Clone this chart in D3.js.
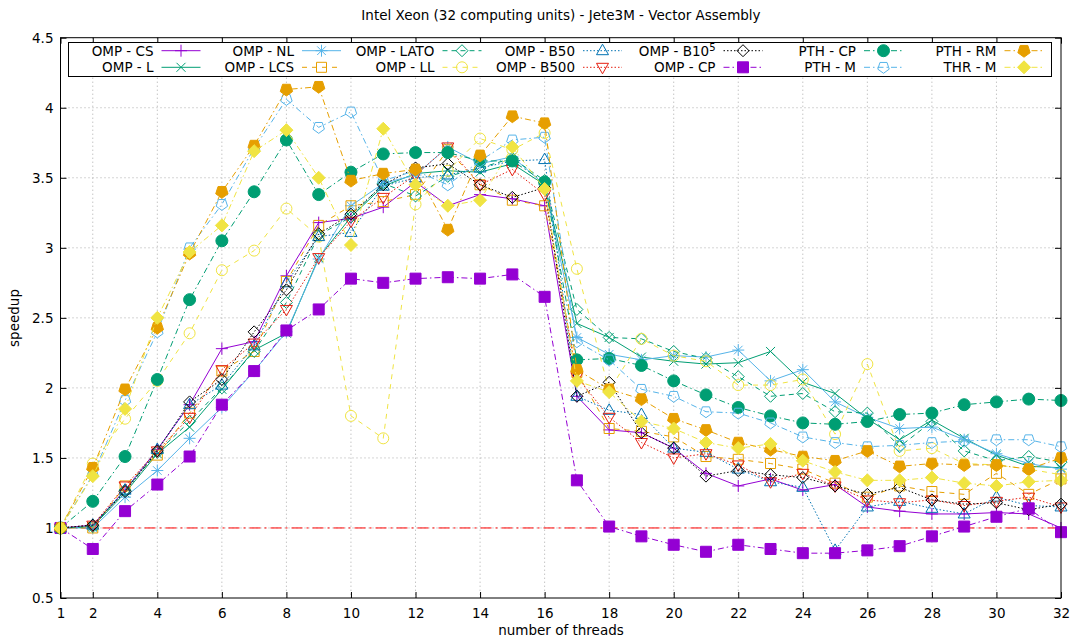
<!DOCTYPE html>
<html><head><meta charset="utf-8">
<script src="https://cdn.jsdelivr.net/npm/d3@7"></script>
<style>body{margin:0;background:#fff}svg text{font-family:"DejaVu Sans",sans-serif;fill:#000}</style>
</head><body><svg id="c" width="1076" height="641"></svg>
<script>
const threads=[1,2,3,4,5,6,7,8,9,10,11,12,13,14,15,16,17,18,19,20,21,22,23,24,25,26,27,28,29,30,31,32];
const xTicks=[1,2,4,6,8,10,12,14,16,18,20,22,24,26,28,30,32];
const yTicks=[0.5,1,1.5,2,2.5,3,3.5,4,4.5];
const yTickLabels=["0.5","1","1.5","2","2.5","3","3.5","4","4.5"];
const title="Intel Xeon (32 computing units) - Jete3M - Vector Assembly";
const xLabel="number of threads", yLabel="speedup";
const seriesNames=["OMP - CS","OMP - L","OMP - NL","OMP - LCS","OMP - LATO","OMP - LL","OMP - B50","OMP - B500","OMP - B10^5","OMP - CP","PTH - CP","PTH - M","PTH - RM","THR - M"];
const ompCS=[1.00,1.02,1.27,1.56,1.88,2.28,2.33,2.80,3.18,3.21,3.29,3.47,3.30,3.38,3.35,3.30,1.94,1.70,1.68,1.57,1.39,1.30,1.35,1.27,1.31,1.15,1.12,1.10,1.10,1.11,1.10,1.00];
const ompL=[1.00,1.01,1.25,1.53,1.72,1.99,2.27,2.39,2.93,3.22,3.44,3.53,3.55,3.54,3.60,3.45,2.46,2.36,2.22,2.19,2.17,2.18,2.26,2.04,1.96,1.78,1.63,1.77,1.64,1.52,1.44,1.43];
const ompNL=[1.00,1.00,1.22,1.41,1.64,1.86,2.12,2.40,2.92,3.30,3.46,3.52,3.72,3.60,3.65,3.45,2.36,2.24,2.20,2.23,2.22,2.27,2.05,2.13,1.90,1.79,1.71,1.72,1.63,1.53,1.46,1.42];
const ompLCS=[1.00,1.00,1.30,1.52,1.82,2.12,2.26,2.76,3.16,3.30,3.33,3.38,3.70,3.45,3.34,3.30,2.11,1.71,1.69,1.65,1.51,1.49,1.46,1.42,1.32,1.22,1.30,1.26,1.24,1.39,1.24,1.35];
const ompLATO=[1.00,1.01,1.27,1.54,1.76,2.00,2.26,2.61,3.09,3.22,3.46,3.37,3.51,3.57,3.64,3.48,2.56,2.36,2.35,2.26,2.21,2.08,1.94,1.96,1.83,1.82,1.58,1.76,1.55,1.48,1.51,1.47];
const ompLL=[1.00,1.46,1.78,2.05,2.39,2.84,2.98,3.28,3.08,1.80,1.64,3.31,3.55,3.78,3.70,3.82,2.85,1.98,2.35,2.23,2.19,2.02,2.02,2.06,1.67,2.17,1.55,1.57,1.46,1.45,1.42,1.38];
const ompB50=[1.00,1.02,1.27,1.56,1.88,2.02,2.30,2.75,3.08,3.11,3.44,3.50,3.52,3.57,3.62,3.63,1.94,1.84,1.81,1.57,1.54,1.42,1.33,1.29,0.84,1.15,1.19,1.14,1.10,1.22,1.16,1.15];
const ompB500=[1.00,1.02,1.30,1.55,1.79,2.13,2.32,2.56,2.93,3.19,3.36,3.52,3.72,3.45,3.56,3.38,2.08,1.79,1.61,1.50,1.53,1.45,1.33,1.39,1.30,1.20,1.18,1.20,1.16,1.19,1.22,1.15];
const ompB105=[1.00,1.02,1.26,1.55,1.90,2.06,2.40,2.70,3.10,3.24,3.45,3.57,3.60,3.45,3.36,3.43,1.94,2.04,1.68,1.57,1.37,1.41,1.38,1.36,1.30,1.24,1.29,1.20,1.17,1.18,1.13,1.17];
const ompCP=[1.00,0.85,1.12,1.31,1.51,1.88,2.12,2.41,2.56,2.78,2.75,2.78,2.79,2.78,2.81,2.65,1.34,1.01,0.94,0.88,0.83,0.88,0.85,0.82,0.82,0.84,0.87,0.94,1.01,1.08,1.14,0.97];
const pthCP=[1.00,1.19,1.51,2.06,2.63,3.05,3.40,3.77,3.38,3.54,3.67,3.68,3.68,3.62,3.62,3.47,2.20,2.21,2.16,2.05,1.95,1.86,1.80,1.75,1.74,1.76,1.81,1.82,1.88,1.90,1.92,1.91];
const pthM=[1.00,1.38,1.91,2.40,3.00,3.31,3.71,4.06,3.86,3.97,3.48,3.55,3.45,3.62,3.77,3.79,2.33,2.20,1.99,1.94,1.83,1.82,1.75,1.65,1.61,1.58,1.59,1.61,1.62,1.63,1.63,1.58];
const pthRM=[1.00,1.43,1.99,2.43,2.96,3.40,3.73,4.13,4.15,3.48,3.53,3.56,3.13,3.66,3.94,3.89,2.13,1.99,1.92,1.78,1.70,1.61,1.56,1.51,1.48,1.55,1.44,1.46,1.45,1.45,1.42,1.50];
const thrM=[1.00,1.37,1.85,2.50,2.97,3.16,3.69,3.84,3.50,3.02,3.85,3.45,3.30,3.34,3.72,3.42,2.05,1.97,1.76,1.71,1.61,1.57,1.60,1.48,1.40,1.34,1.34,1.36,1.32,1.30,1.33,1.34];
const seriesValues=[ompCS,ompL,ompNL,ompLCS,ompLATO,ompLL,ompB50,ompB500,ompB105,ompCP,pthCP,pthM,pthRM,thrM];
const refValue=1;

// styles
const C={purple:"#9400d3",green:"#009e73",sky:"#56b4e9",orange:"#e69f00",yellow:"#f0e442",blue:"#0072b2",red:"#e51e10",black:"#000000"};
const seriesColors=[C.purple,C.green,C.sky,C.orange,C.green,C.yellow,C.blue,C.red,C.black,C.purple,C.green,C.sky,C.orange,C.yellow];
const seriesMarkers=["plus","cross","star","square","diamond","circle","triUp","triDown","diamond","squareF","circleF","pentagon","pentagonF","diamondF"];
const DASH="5,5", DASH2="5,4", DOT="1.5,2", DASHDOT="6,3,1.5,3";
const seriesDash=[null,null,null,DASH,DASH2,DASH,DOT,DOT,DOT,DASHDOT,DASHDOT,DASHDOT,DASHDOT,DASHDOT];
const FS=13.5;

const svg=d3.select("#c");
const L=60.5,R=1061,T=37.7,B=598;
const x=d3.scaleLinear().domain([1,32]).range([L,R]);
const y=d3.scaleLinear().domain([0.5,4.5]).range([B,T]);

function pent(r){const p=[];for(let i=0;i<5;i++){const a=Math.PI/2+i*2*Math.PI/5;p.push([r*Math.cos(a),r*Math.sin(a)]);}return "M"+p.map(d=>d[0].toFixed(2)+","+d[1].toFixed(2)).join("L")+"Z";}
function markerPath(t){
  switch(t){
    case "plus":return "M-6,0H6M0,-6V6";
    case "cross":return "M-4.5,-4.5L4.5,4.5M-4.5,4.5L4.5,-4.5";
    case "star":return "M-6,0H6M0,-6V6M-4.3,-4.3L4.3,4.3M-4.3,4.3L4.3,-4.3";
    case "square":return "M-5,-5H5V5H-5Z";
    case "squareF":return "M-5.5,-5.5H5.5V5.5H-5.5Z";
    case "circle":return "M5.5,0A5.5,5.5 0 1,1 -5.5,0A5.5,5.5 0 1,1 5.5,0Z";
    case "circleF":return "M6,0A6,6 0 1,1 -6,0A6,6 0 1,1 6,0Z";
    case "triUp":return "M0,-6.5L6,4L-6,4Z";
    case "triDown":return "M0,6.5L6,-4L-6,-4Z";
    case "diamond":return "M0,-6L6,0L0,6L-6,0Z";
    case "diamondF":return "M0,-6.5L6.5,0L0,6.5L-6.5,0Z";
    case "pentagon":return pent(6);
    case "pentagonF":return pent(6.5);
  }
}
function drawMarker(g,t,col,cx,cy){
  const filled=t.endsWith("F");
  g.append("path").attr("d",markerPath(t)).attr("transform",`translate(${cx},${cy})`)
   .attr("fill",filled?col:"none").attr("stroke",col).attr("stroke-width",1);
}

// grid
const grid=svg.append("g").attr("stroke","#aaaaaa").attr("stroke-width",1).attr("stroke-dasharray","1,3");
xTicks.filter(v=>v>1&&v<32).forEach(v=>grid.append("line").attr("x1",x(v)).attr("x2",x(v)).attr("y1",T).attr("y2",B));
yTicks.filter(v=>v>0.5&&v<4.5).forEach(v=>grid.append("line").attr("x1",L).attr("x2",R).attr("y1",y(v)).attr("y2",y(v)));

// axes with d3 (ticks inward)
const xAxis=d3.axisBottom(x).tickValues(xTicks).tickSize(-6).tickPadding(10).tickFormat(d3.format("d"));
svg.append("g").attr("transform",`translate(0,${B})`).call(xAxis);
const yAxis=d3.axisLeft(y).tickValues(yTicks).tickSize(-6).tickPadding(7).tickFormat((d,i)=>yTickLabels[i]);
svg.append("g").attr("transform",`translate(${L},0)`).call(yAxis);
svg.append("g").attr("transform",`translate(0,${T})`).call(d3.axisTop(x).tickValues(xTicks).tickSize(-6).tickFormat(""));
svg.append("g").attr("transform",`translate(${R},0)`).call(d3.axisRight(y).tickValues(yTicks).tickSize(-6).tickFormat(""));
svg.selectAll(".domain").remove();
svg.selectAll(".tick line").attr("stroke","#000");
svg.selectAll(".tick text").attr("font-size",FS).attr("font-family","DejaVu Sans");

// reference line
svg.append("line").attr("x1",x(1)).attr("x2",x(32)).attr("y1",y(refValue)).attr("y2",y(refValue))
  .attr("stroke","#ff0000").attr("stroke-width",1).attr("stroke-dasharray","11,4,2,4");

// series
const line=d3.line().x((d,i)=>x(threads[i])).y(d=>y(d));
seriesValues.forEach((vals,k)=>{
  const g=svg.append("g");
  g.append("path").attr("d",line(vals)).attr("fill","none").attr("stroke",seriesColors[k]).attr("stroke-width",1)
   .attr("stroke-dasharray",seriesDash[k]);
  vals.forEach((v,i)=>drawMarker(g,seriesMarkers[k],seriesColors[k],x(threads[i]),y(v)));
});

// border
svg.append("rect").attr("x",L).attr("y",T).attr("width",R-L).attr("height",B-T).attr("fill","none").attr("stroke","#000").attr("stroke-width",1);

// legend
const lg=svg.append("g");
lg.append("rect").attr("x",68.5).attr("y",42.5).attr("width",983).attr("height",34).attr("fill","#fff").attr("stroke","#000");
seriesNames.forEach((nm,k)=>{
  const col=Math.floor(k/2),row=k%2;
  const te=153.5+140.5*col, cy=row?67.3:50.7;
  const t=lg.append("text").attr("x",te).attr("y",cy+4.8).attr("text-anchor","end").attr("font-size",FS);
  if(nm.includes("^")){const [a,b]=nm.split("^");t.append("tspan").text(a);t.append("tspan").attr("dy",-5).attr("font-size",10).text(b);}
  else t.text(nm);
  lg.append("line").attr("x1",te+8).attr("x2",te+47).attr("y1",cy).attr("y2",cy).attr("stroke",seriesColors[k]).attr("stroke-dasharray",seriesDash[k]);
  drawMarker(lg,seriesMarkers[k],seriesColors[k],te+27.5,cy);
});

// titles
svg.append("text").attr("x",561).attr("y",20).attr("text-anchor","middle").attr("font-size",FS).text(title);
svg.append("text").attr("x",561).attr("y",635).attr("text-anchor","middle").attr("font-size",FS).text(xLabel);
svg.append("text").attr("transform","translate(19,318) rotate(-90)").attr("text-anchor","middle").attr("font-size",FS).text(yLabel);
</script></body></html>
